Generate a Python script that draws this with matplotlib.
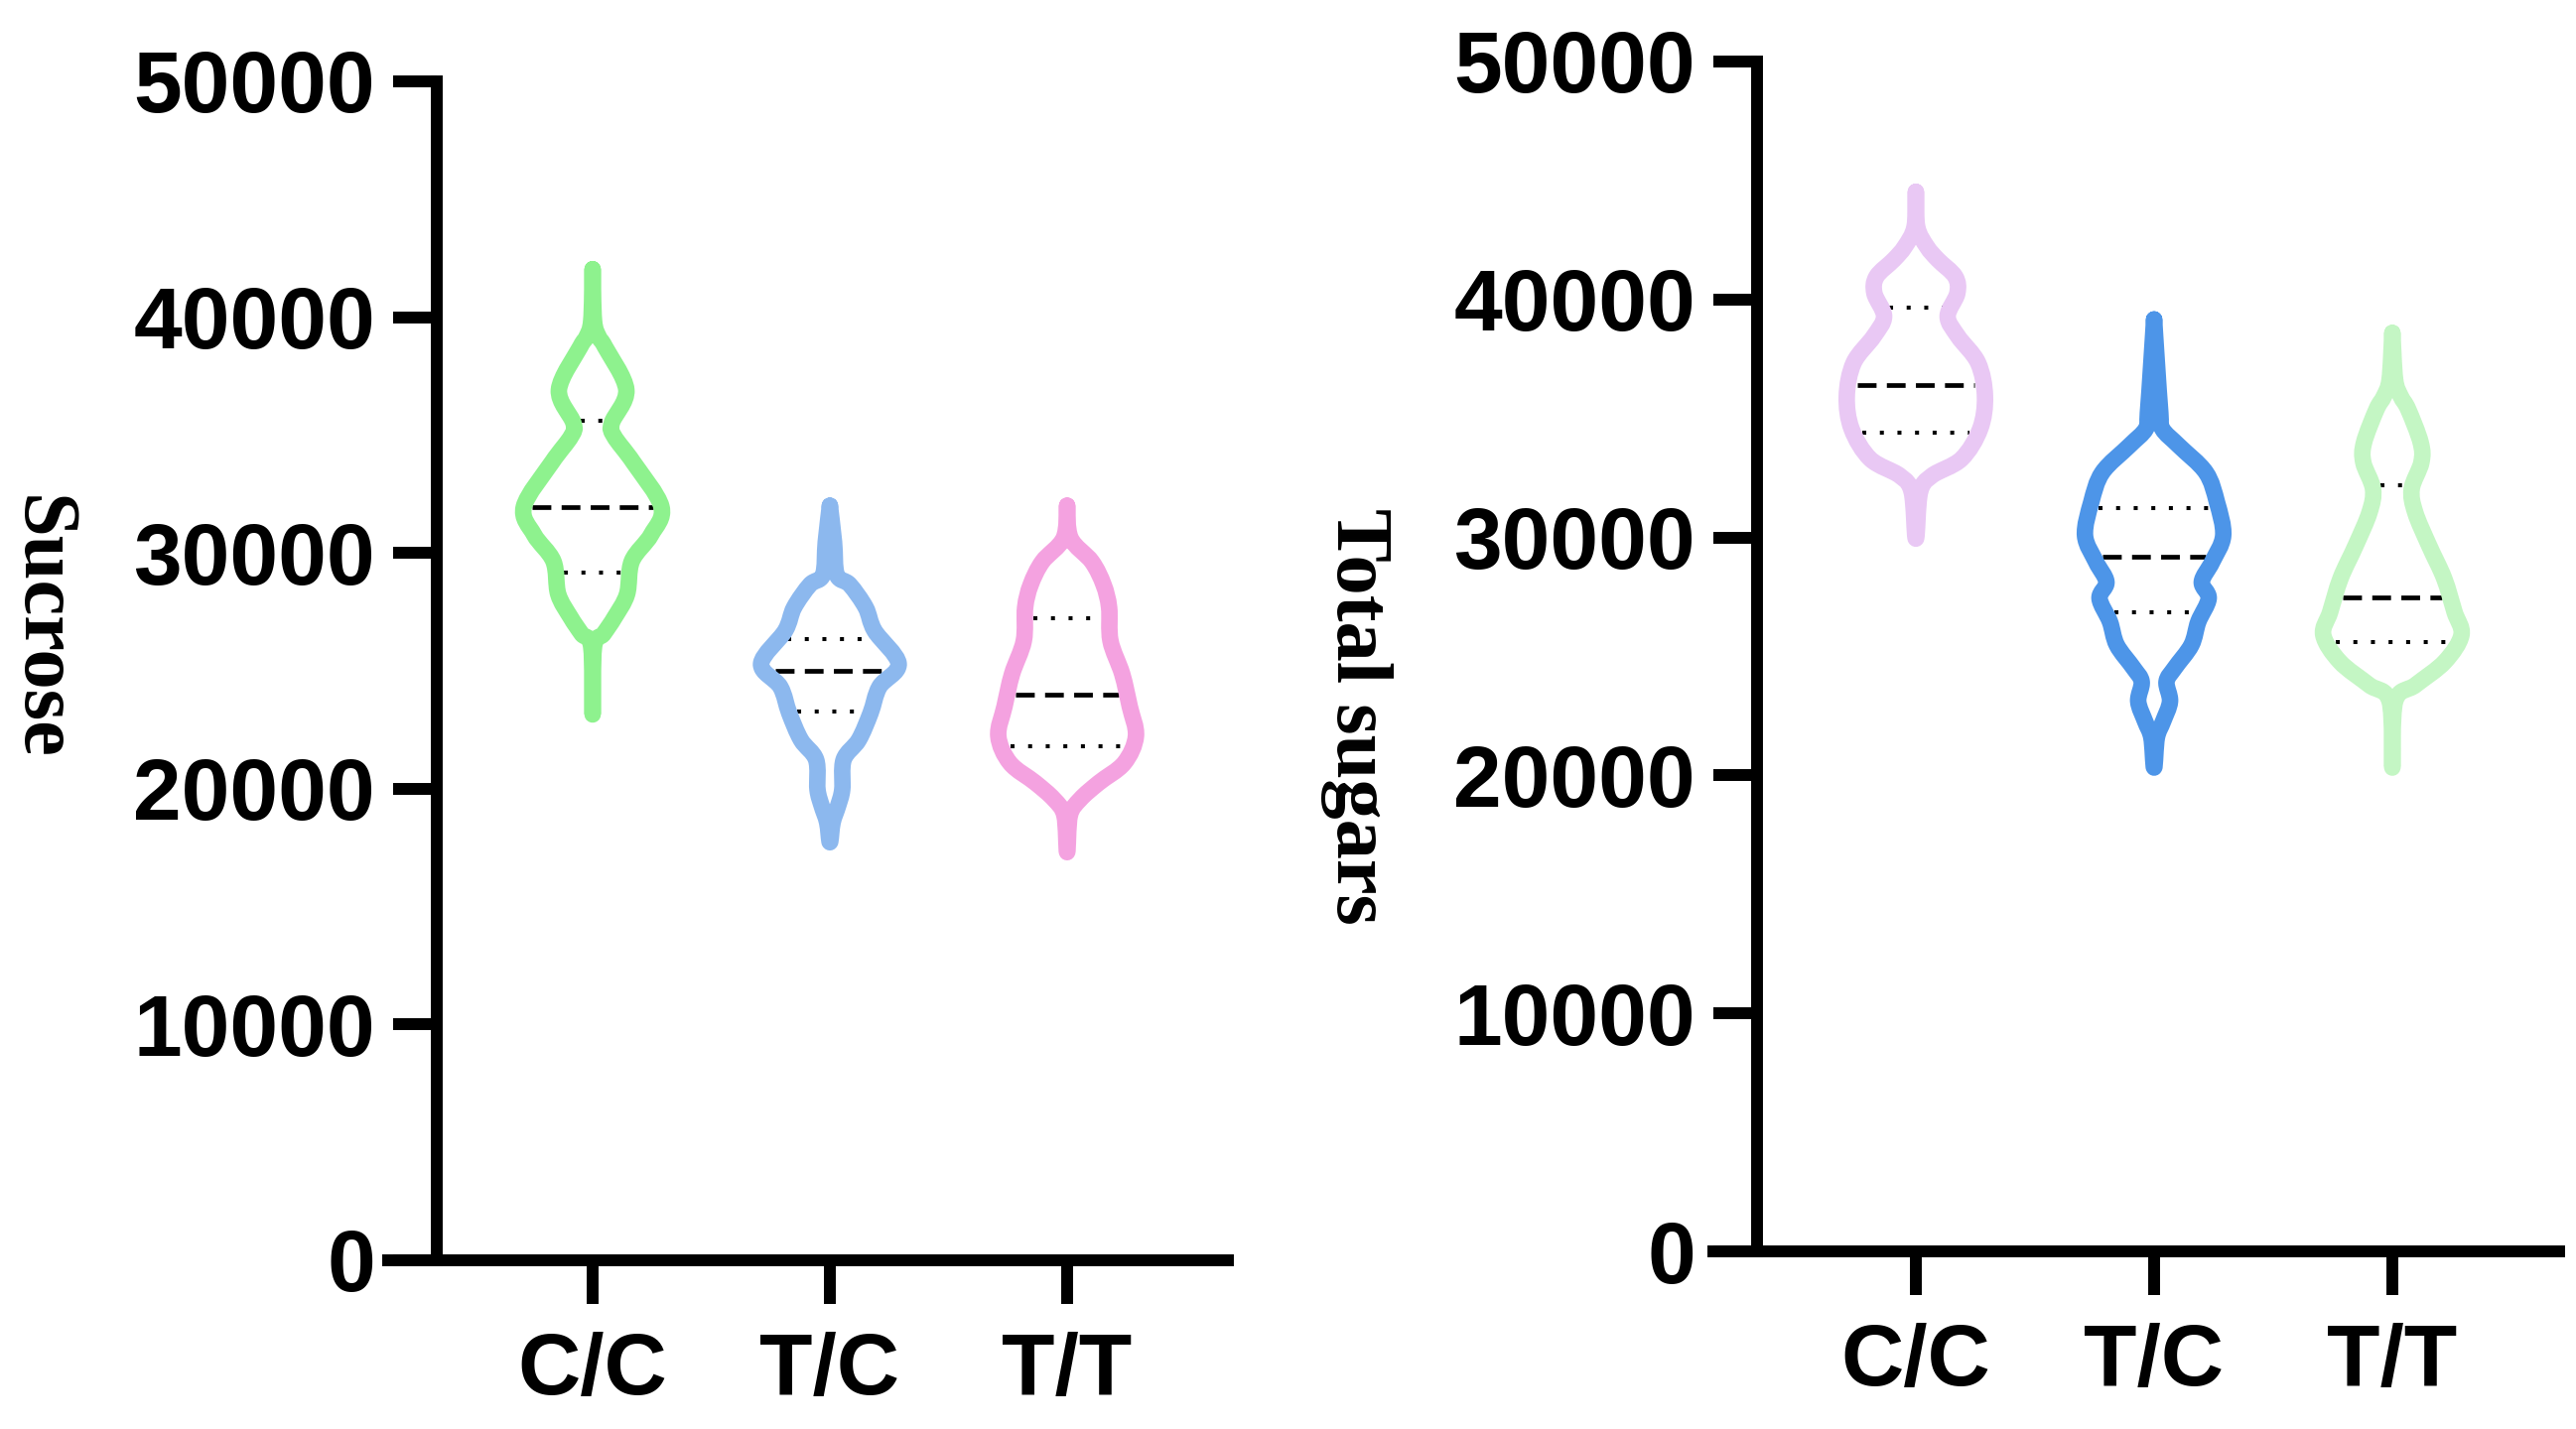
import numpy as np
import matplotlib
matplotlib.use("Agg")
import matplotlib.pyplot as plt
from matplotlib.path import Path
from matplotlib.patches import PathPatch

groups = ["C/C", "T/C", "T/T"]

# Sucrose panel: violin outline profiles (value, relative half width)
suc_cc_lvl = [42030, 39860, 39160, 38740, 36920, 35520, 34960, 33850, 31960, 30770, 29650, 28250, 27270, 26570, 26010, 23150]
suc_cc_w = [0, 0.02, 0.09, 0.18, 0.49, 0.28, 0.31, 0.59, 1.0, 0.85, 0.57, 0.5, 0.32, 0.16, 0.02, 0]
suc_tc_lvl = [32000, 30475, 29075, 28650, 27690, 26700, 25300, 24320, 23200, 22070, 21230, 19970, 19280, 18570, 17730]
suc_tc_w = [0, 0.06, 0.1, 0.29, 0.52, 0.65, 1.0, 0.72, 0.59, 0.42, 0.2, 0.18, 0.12, 0.04, 0]
suc_tt_lvl = [32000, 30630, 29630, 28650, 27690, 26270, 24870, 23490, 22230, 21090, 20250, 19550, 18870, 17310]
suc_tt_w = [0, 0.05, 0.36, 0.53, 0.61, 0.63, 0.8, 0.91, 1.0, 0.83, 0.46, 0.19, 0.04, 0]
suc_median = [31960, 25010, 23970]
suc_q1 = [29160, 23280, 21800]
suc_q3 = [35600, 26345, 27230]

# Total sugars panel
tot_cc_lvl = [44520, 43050, 42220, 41670, 40960, 40260, 39290, 38450, 37340, 35940, 34560, 33300, 32590, 31900, 29950]
tot_cc_w = [0, 0.02, 0.16, 0.32, 0.57, 0.6, 0.46, 0.61, 0.9, 1.0, 0.93, 0.66, 0.23, 0.06, 0]
tot_tc_lvl = [39160, 37340, 35240, 34560, 33850, 32730, 31480, 30080, 28970, 28130, 27440, 26460, 25480, 24520, 23940, 23110, 22270, 21590, 20330]
tot_tc_w = [0, 0.04, 0.09, 0.12, 0.36, 0.75, 0.91, 1.0, 0.84, 0.69, 0.79, 0.64, 0.54, 0.3, 0.18, 0.23, 0.13, 0.04, 0]
tot_tt_lvl = [38590, 36640, 35940, 35380, 33990, 33150, 32040, 31060, 29670, 28280, 26870, 25900, 24780, 23810, 23110, 20330]
tot_tt_w = [0, 0.04, 0.12, 0.23, 0.41, 0.42, 0.28, 0.33, 0.53, 0.75, 0.9, 1.0, 0.76, 0.34, 0.04, 0]
tot_median = [36400, 29200, 27500]
tot_q1 = [34400, 26850, 25620]
tot_q3 = [39640, 31240, 32190]

yticks = [0, 10000, 20000, 30000, 40000, 50000]

suc_colors = ["#8ef28e", "#8cb8ee", "#f4a2e0"]
tot_colors = ["#e9c8f4", "#4d95e8", "#c4f6c4"]

W, H = 2595, 1440
HALF = 0.29      # max half width of a violin, data units
INSET = 0.035    # median / quartile lines stop at the inner edge of the outline


def smooth_outline(xs, ys):
    # catmull-rom through the outline points, drawn as bezier path
    p = np.column_stack([xs, ys])
    n = len(p)
    verts = [p[0]]
    codes = [Path.MOVETO]
    for i in range(n - 1):
        p0 = p[max(i - 1, 0)]
        p1 = p[i]
        p2 = p[i + 1]
        p3 = p[min(i + 2, n - 1)]
        verts += [p1 + (p2 - p0) / 6, p2 - (p3 - p1) / 6, p2]
        codes += [Path.CURVE4] * 3
    return Path(verts, codes)


def violin(ax, pos, lvl, w, color):
    lvl = np.array(lvl, float)
    w = np.array(w, float) * HALF
    xs = np.concatenate([pos + w, (pos - w)[::-1][1:]])
    ys = np.concatenate([lvl, lvl[::-1][1:]])
    patch = PathPatch(smooth_outline(xs, ys), facecolor="none", edgecolor=color,
                      lw=12, joinstyle="round", capstyle="round", zorder=3)
    ax.add_patch(patch)


def stat_line(ax, pos, lvl, w, val, style, lw):
    half = np.interp(val, lvl[::-1], np.array(w[::-1]) * HALF) - INSET
    ax.plot([pos - half, pos + half], [val, val], color="black", lw=lw,
            linestyle=style, dash_capstyle="butt", zorder=2)


def panel(rect, spine_px, cat_px, profiles, med, q1, q3, colors):
    left, right, top, bottom = rect
    ax = fig.add_axes([left / W, (H - bottom) / H, (right - left) / W, (bottom - top) / H])
    step = cat_px[1] - cat_px[0]
    ax.set_xlim((left - cat_px[0]) / step, (right - cat_px[0]) / step)
    ax.set_ylim(0, 50000)
    for i, (lvl, w) in enumerate(profiles):
        violin(ax, i, lvl, w, colors[i])
        stat_line(ax, i, lvl, w, med[i], (0, (4, 2.2)), 3.4)
        stat_line(ax, i, lvl, w, q1[i], (0, (1, 3.4)), 2.9)
        stat_line(ax, i, lvl, w, q3[i], (0, (1, 3.4)), 2.9)
    for s in ["top", "right"]:
        ax.spines[s].set_visible(False)
    ax.spines["left"].set_position(("axes", (spine_px - left) / (right - left)))
    ax.spines["left"].set_linewidth(8.6)
    ax.spines["bottom"].set_linewidth(8.6)
    ax.set_yticks(yticks)
    ax.set_yticklabels([str(t) for t in yticks])
    ax.set_xticks(range(len(groups)))
    ax.set_xticklabels(groups)
    ax.tick_params(axis="y", length=31.7, width=8.6, pad=13, labelsize=63)
    ax.tick_params(axis="x", length=31.7, width=8.6, pad=20, labelsize=63)
    for lab in ax.get_xticklabels() + ax.get_yticklabels():
        lab.set_fontweight("bold")
        lab.set_fontfamily("Liberation Sans")
    ax.patch.set_alpha(0)
    return ax


fig = plt.figure(figsize=(W / 100, H / 100), dpi=100)

panel((391, 1237, 82, 1270), 440, [597, 836, 1074],
      [(suc_cc_lvl, suc_cc_w), (suc_tc_lvl, suc_tc_w), (suc_tt_lvl, suc_tt_w)],
      suc_median, suc_q1, suc_q3, suc_colors)
panel((1726, 2578, 62, 1261), 1770, [1930, 2170, 2410],
      [(tot_cc_lvl, tot_cc_w), (tot_tc_lvl, tot_tc_w), (tot_tt_lvl, tot_tt_w)],
      tot_median, tot_q1, tot_q3, tot_colors)

fig.text(40 / W, 1 - 632 / H, "Sucrose", rotation=270, ha="center", va="center",
         fontsize=58, fontweight="bold", family="Liberation Serif")
fig.text(1366 / W, 1 - 722 / H, "Total sugars", rotation=270, ha="center", va="center",
         fontsize=58, fontweight="bold", family="Liberation Serif")

fig.savefig("out.png", dpi=100, facecolor="white")
